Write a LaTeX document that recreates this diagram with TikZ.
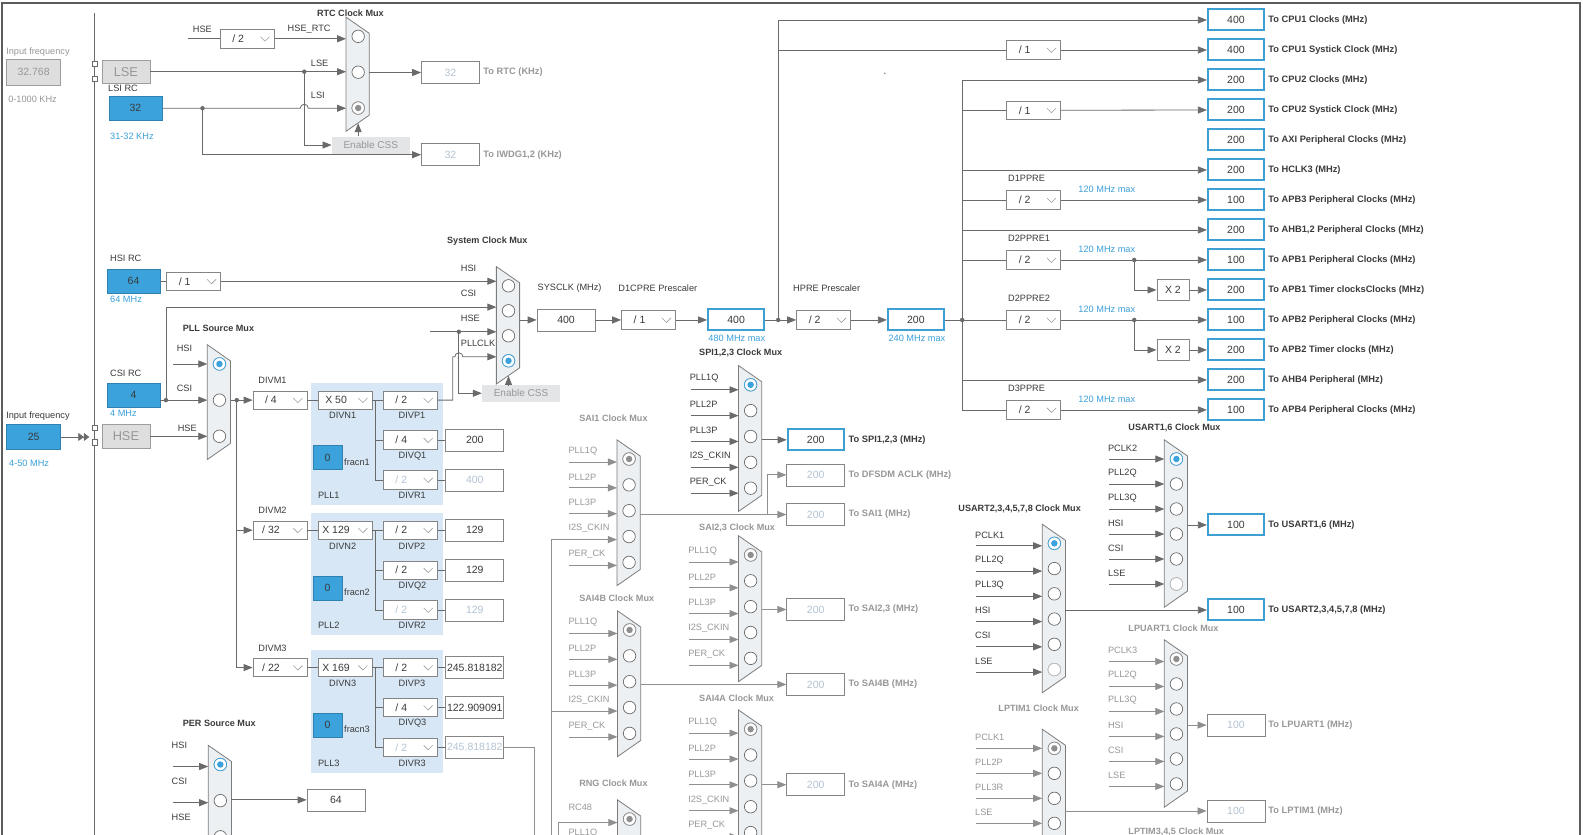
\documentclass[tikz,border=0pt]{standalone}
\usepackage{fontspec}
\setmainfont{Liberation Sans}
\usetikzlibrary{arrows.meta,positioning}

\definecolor{lnc}{HTML}{6A6A6A}
\definecolor{offlnc}{HTML}{8F8F8F}
\definecolor{txc}{HTML}{3A3A3A}
\definecolor{offtx}{HTML}{979797}
\definecolor{valoffc}{HTML}{B3C3D3}
\definecolor{inblue}{HTML}{3BA2DB}
\definecolor{outblue}{HTML}{3E9FD2}
\definecolor{bluetx}{HTML}{3A9FD8}
\definecolor{muxfill}{HTML}{EDF0F3}
\definecolor{muxc}{HTML}{7C7C7C}
\definecolor{boxc}{HTML}{858585}
\definecolor{pllbg}{HTML}{D7E7F5}
\definecolor{greyfill}{HTML}{DEDEDE}
\definecolor{cssfill}{HTML}{E3E5E7}
\definecolor{framec}{HTML}{5C5C5C}

% mux: [colour of chosen input] name, left x, first input y, inputs, pitch, chosen
\newcommand{\mux}[7][inblue]{%
  \pgfmathsetmacro\muxlast{#4+(#5-1)*#6}
  \draw[muxs] (#3,#4-19) -- (#3+23,#4-3) -- (#3+23,\muxlast+7) -- (#3,\muxlast+23) -- cycle;
  \foreach \i in {1,...,#5} {
    \coordinate (#2i\i) at (#3,{#4+(\i-1)*#6});
    \node[mcirc] (#2c\i) at ({#3+12},{#4+(\i-1)*#6}) {};
  }
  \node[mcirc,draw=#1] (#2sel) at (#2c#7) {};
  \fill[#1] (#2sel) circle (3.2);
  \coordinate (#2o) at (#3+23,{(#4+\muxlast)/2});
  \coordinate (#2b) at (#3+12,\muxlast+15);
}
% inputs of a mux: [arrow] mux, start x, label colour, drop, raise, labels
\newcommand{\muxin}[7][arr]{%
  \coordinate (#2x) at (#3,0);
  \foreach \lab [count=\i] in {#7} {
    \coordinate (#2t\i) at (#2x |- #2i\i);
    \coordinate (#2s\i) at ([yshift=-#5pt]#2t\i);
    \coordinate (#2e\i) at ([yshift=-#5pt]#2i\i);
    \draw[#1] (#2s\i) -- (#2e\i);
    \node[lbl,text=#4] (#2l\i) at ([xshift=-1pt,yshift=#6pt]#2s\i) {\lab};
  }
}
% drop-down box: [text colour] name, place, text
\newcommand{\dd}[4][txc]{%
  \node[ddbox] (#2) at (#3) {};
  \node[ddtx,text=#1] (#2t) at ([xshift=-9pt]#2.center) {#4};
  \draw[ddv] ([xshift=-14pt,yshift=2pt]#2.east) -- ([xshift=-9.5pt,yshift=-2.5pt]#2.east) -- ([xshift=-5pt,yshift=2pt]#2.east);
}

\begin{document}
\begin{tikzpicture}[x=1.009pt, y=-1.01pt, font=\fontsize{9.2}{11}\selectfont, text=txc,
  ln/.style={draw=lnc, line width=0.8pt},
  lnoff/.style={draw=offlnc, line width=0.8pt},
  arr/.style={ln, -{Triangle[length=9pt,width=7pt]}},
  arroff/.style={lnoff, -{Triangle[length=9pt,width=7pt]}},
  lbl/.style={anchor=west, inner sep=0pt},
  ttl/.style={anchor=west, inner sep=0pt, font=\bfseries\fontsize{9.1}{10}\selectfont},
  blbl/.style={anchor=west, inner sep=0pt, font=\bfseries\fontsize{9.3}{11}\selectfont},
  valbox/.style={draw=boxc, fill=white, line width=0.7pt, minimum width=58pt, minimum height=22pt, inner sep=0pt, font=\fontsize{10.5}{12}\selectfont},
  valoff/.style={valbox, text=valoffc},
  outbox/.style={valbox, draw=outblue, line width=2pt, minimum width=56pt, minimum height=21pt},
  inbox/.style={fill=inblue, draw=inblue!80!black, line width=0.5pt, minimum width=53pt, minimum height=24pt, inner sep=0pt, font=\fontsize{10.5}{12}\selectfont},
  greybox/.style={fill=greyfill, draw=boxc!80, line width=0.6pt, inner sep=0pt, text=offtx},
  cssbox/.style={fill=cssfill, minimum width=78pt, minimum height=17pt, inner sep=0pt, text=offtx, font=\fontsize{10}{12}\selectfont},
  pinsq/.style={draw=lnc, fill=white, minimum size=5.5pt, inner sep=0pt, line width=0.6pt},
  muxs/.style={draw=muxc, fill=muxfill, line width=0.8pt},
  mcirc/.style={circle, draw=lnc, fill=white, minimum size=12.5pt, inner sep=0pt, line width=0.7pt},
  ddbox/.style={draw=boxc, fill=white, line width=0.7pt, minimum width=54pt, minimum height=18.5pt, inner sep=0pt},
  ddtx/.style={inner sep=0pt, font=\fontsize{10.5}{12}\selectfont},
  ddv/.style={draw=boxc!80, line width=0.6pt}]
\useasboundingbox (0,0) rectangle (1569,826.7);
\draw[framec, line width=2.6pt] (2,840) -- (2,3) -- (1566,3) -- (1566,840);
\draw[ln] (94,13) -- (94,840);

% LSE and LSI
\node[lbl,text=offtx] (lsefl) at (6,52) {Input frequency};
\node[greybox, minimum width=54pt, minimum height=26pt, font=\fontsize{10.5}{12}\selectfont] (lsef) at (33.3,71.6) {32.768};
\node[lbl,text=offtx] (lsefr) at (8,98) {0-1000 KHz};
\foreach \n/\y in {1/63.4,2/78,3/423.4,4/438}
	\node[pinsq] (pin\n) at (94,\y) {};
\node[greybox, minimum width=48pt, minimum height=23pt, font=\fontsize{12.8}{14}\selectfont] (lse) at (124.8,71) {LSE};
\node[lbl] (lsirl) at (107,87.5) {LSI RC};
\node[inbox] (lsi) at (134.2,107.2) {32};
\node[lbl,text=bluetx] (lsir) at (109,135) {31-32 KHz};

% RTC
\mux[offlnc]{rtc}{343}{36}{3}{35.5}{3}
\node[ttl] (rtct) at (314,13) {RTC Clock Mux};
\coordinate (hsert) at (186.5,38.4);
\node[lbl] (hsertl) at (191,28.7) {HSE};
\dd{rtcdiv}{245,38.4}{/ 2}
\node[lbl] (hsertcl) at (285,28.7) {HSE\_RTC};
\node[lbl] (rtclse) at (308,62.7) {LSE};
\node[lbl] (rtclsi) at (308,94) {LSI};
\draw[ln] (hsert) -- (rtcdiv);
\draw[arr] (rtcdiv.east) -- (rtcdiv.east -| rtci1);
\coordinate (lsed) at (301.6,71);
\draw[arr] (lse) -- (lse -| rtci2);
\node[cssbox] (css1) at (367.5,143.6) {Enable CSS};
\draw[arr] (lsed) |- (css1);
\fill[lnc] (lsed) circle (2.2);
\coordinate (lsid) at (200.7,107.2);
\coordinate (hop1) at (297.6,107.2);
\draw[arr] (lsi) -- (hop1) arc[start angle=180,end angle=360,radius=4] -- (hop1 -| rtci3);
\fill[lnc] (lsid) circle (2.2);
\node[valoff] (rtcv) at (446.5,71.8) {32};
\node[valoff] (iwdgv) at (446.5,153.2) {32};
\draw[arr] (rtcv.west -| rtco) -- (rtcv.west);
\draw[arr] (lsid) |- (iwdgv);
\draw[arr] (css1.north -| rtcb) -- (rtcb);
\node[blbl,text=offtx] (rtcl) at (479,71.8) {To RTC (KHz)};
\node[blbl,text=offtx] (iwdgl) at (479,153.2) {To IWDG1,2 (KHz)};

% HSI and system clock mux
\node[lbl] (hsirl) at (109,255.8) {HSI RC};
\node[inbox] (hsi) at (132.4,278.5) {64};
\node[lbl,text=bluetx] (hsir) at (109,296) {64 MHz};
\dd{hsidiv}{192,278.5}{/ 1}
\draw[ln] (hsi) -- (hsidiv);
\mux{sys}{492}{283}{4}{24.75}{4}
\node[ttl] (syst) at (443,238.5) {System Clock Mux};
\node[lbl] (syshl) at (456.6,265.7) {HSI};
\node[lbl] (syscl) at (456.6,290.4) {CSI};
\node[lbl] (sysel) at (456.6,315.2) {HSE};
\node[lbl] (syspl) at (456.6,340) {PLLCLK};
\draw[arr] (hsidiv.east) -- (hsidiv.east -| sysi1);
\coordinate (hses) at (426.5,328.5);
\coordinate (hsed) at (454.8,328.5);
\draw[arr] (hses) -- (hses -| sysi3);
\fill[lnc] (hsed) circle (2.2);
\node[cssbox] (css2) at (516.4,389.4) {Enable CSS};
\draw[arr] (hsed) |- (css2);
\draw[arr] (css2.north -| sysb) -- (sysb);

% SYSCLK chain
\node[valbox] (sysclk) at (561,316.8) {400};
\node[lbl] (sysclkl) at (532.7,285.5) {SYSCLK (MHz)};
\draw[arr] (sysclk.west -| syso) -- (sysclk.west);
\dd{d1cpre}{642.8,316.8}{/ 1}
\node[lbl] (d1cprel) at (612.8,285.5) {D1CPRE Prescaler};
\node[outbox] (cpuclk) at (729.6,316.8) {400};
\node[lbl,text=bluetx] (cpumax) at (702,335.5) {480 MHz max};
\coordinate (cpud) at (771.3,316.8);
\dd{hpre}{816.3,316.8}{/ 2}
\node[lbl] (hprel) at (786,285.5) {HPRE Prescaler};
\node[outbox] (hclk) at (907.8,316.8) {200};
\node[lbl,text=bluetx] (hclkmax) at (880.5,335.5) {240 MHz max};
\coordinate (hd) at (953.7,316.8);
\draw[arr] (sysclk) -- (d1cpre);
\draw[arr] (d1cpre) -- (cpuclk);
\draw[ln] (cpuclk) -- (cpud);
\draw[arr] (cpud) -- (hpre);
\draw[arr] (hpre) -- (hclk);
\draw[ln] (hclk) -- (hd);
\fill[lnc] (cpud) circle (2.2);
\fill[lnc] (hd) circle (2.2);

% bus clocks
\foreach \n/\val/\txt in {1/400/To CPU1 Clocks (MHz), 2/400/To CPU1 Systick Clock (MHz), 3/200/To CPU2 Clocks (MHz), 4/200/To CPU2 Systick Clock (MHz), 5/200/To AXI Peripheral Clocks (MHz), 6/200/To HCLK3 (MHz), 7/100/To APB3 Peripheral Clocks (MHz), 8/200/{To AHB1,2 Peripheral Clocks (MHz)}, 9/100/To APB1 Peripheral Clocks (MHz), 10/200/To APB1 Timer clocksClocks (MHz), 11/100/To APB2 Peripheral Clocks (MHz), 12/200/To APB2 Timer clocks (MHz), 13/200/To AHB4 Peripheral (MHz), 14/100/To APB4 Peripheral Clocks (MHz)} {
	\node[outbox] (o\n) at (1225,{19.8+29.7*(\n-1)}) {\val};
	\node[blbl] (t\n) at (1257,{19.8+29.7*(\n-1)}) {\txt};
};
\draw[arr] (cpud) |- (o1);
\dd{cpu1div}{1024.5,49.5}{/ 1}
\draw[ln] (cpud |- cpu1div) -- (cpu1div);
\draw[arr] (cpu1div) -- (o2);
\draw[ln] (hd |- o3) -- (hd |- o14);
\draw[arr] (hd |- o3) -- (o3);
\dd{cpu2div}{1024.5,109.2}{/ 1}
\draw[ln] (hd |- cpu2div) -- (cpu2div);
\draw[arr] (cpu2div) -- (o4);
\draw[arr] (hd |- o6) -- (o6);
\draw[arr] (hd |- o8) -- (o8);
\draw[arr] (hd |- o13) -- (o13);
\foreach \n/\dv/\lab in {7/d1ppre/D1PPRE, 9/d2ppre1/D2PPRE1, 11/d2ppre2/D2PPRE2, 14/d3ppre/D3PPRE} {
	\dd{\dv}{1024.5,{19.8+29.7*(\n-1)}}{/ 2}
	\node[lbl] (\dv-l) at (999,{19.8+29.7*(\n-1)-21}) {\lab};
	\node[lbl,text=bluetx] (\dv-m) at (1068.7,{19.8+29.7*(\n-1)-10.5}) {120 MHz max};
	\draw[ln] (hd |- \dv) -- (\dv);
	\draw[arr] (\dv) -- (o\n);
};
\coordinate (tcol) at (1124.2,0);
\foreach \dv/\a/\b/\xb in {d2ppre1/9/10/xa, d2ppre2/11/12/xb} {
	\node[valbox, minimum width=32pt, minimum height=21pt] (\xb) at (1162.5,{19.8+29.7*(\b-1)}) {X 2};
	\fill[lnc] (tcol |- o\a) circle (2.2);
	\draw[arr] (tcol |- o\a) |- (\xb);
	\draw[arr] (\xb) -- (o\b);
};
\fill[offlnc] (877,72.6) circle (0.9);

% CSI, HSE and PLL source
\node[lbl] (csirl) at (109,369.6) {CSI RC};
\node[inbox] (csi) at (132.4,391.4) {4};
\node[lbl,text=bluetx] (csir) at (109,409.5) {4 MHz};
\mux{pllsrc}{205.5}{360.4}{3}{35.8}{1}
\node[ttl] (pllsrct) at (181,325) {PLL Source Mux};
\coordinate (pllh) at (171.7,360.4);
\draw[arr] (pllh) -- (pllsrci1);
\node[lbl] (pllhl) at (175,345) {HSI};
\coordinate (csid) at (164.5,396.2);
\draw[arr] (csi.east |- csid) -- (pllsrci2);
\fill[lnc] (csid) circle (2.2);
\draw[arr] (csid) |- ([yshift=3.7pt]sysi2);
\node[lbl] (pllcl) at (175,384.5) {CSI};
\node[greybox, minimum width=48pt, minimum height=24pt, font=\fontsize{12.8}{14}\selectfont] (hse) at (124.8,432) {HSE};
\draw[arr] (hse) -- (pllsrci3);
\node[lbl] (pllel) at (176,424) {HSE};
\node[lbl] (hsefl) at (6,412.5) {Input frequency};
\node[inbox, minimum width=54pt, minimum height=25.5pt] (hsef) at (33.3,432.7) {25};
\node[lbl,text=bluetx] (hsefr) at (8.9,458.7) {4-50 MHz};
\coordinate (hsep) at (88.5,432.7);
\draw[ln, -{Triangle[length=5.5pt,width=8pt] Triangle[length=5.5pt,width=8pt]}] (hsef) -- (hsep);
\coordinate (pd) at (234.7,396.2);
\draw[ln] (pllsrco) -- (pd);
\fill[lnc] (pd) circle (2.2);

% PLL1..3
\foreach \k/\y/\m/\n/\q in {1/396.2/4/50/4, 2/525/32/129/2, 3/661/22/169/4} {
	\fill[pllbg] (308.6,\y-17) rectangle (439,\y+104);
	\dd{divm\k}{277.5,\y}{/ \m}
	\node[lbl] (divml\k) at (256,\y-19.5) {DIVM\k};
	\dd{divn\k}{342,\y}{X \n}
	\dd{divp\k}{406.7,\y}{/ 2}
	\dd{divq\k}{406.7,\y+39.5}{/ \q}
	\dd[valoffc]{divr\k}{406.7,\y+79}{/ 2}
	\node[lbl] (divnl\k) at (326,\y+15.5) {DIVN\k};
	\node[lbl] (divpl\k) at (395,\y+15.5) {DIVP\k};
	\node[lbl] (divql\k) at (395,\y+55) {DIVQ\k};
	\node[lbl] (divrl\k) at (395,\y+94.5) {DIVR\k};
	\node[lbl] (plll\k) at (315,\y+94.5) {PLL\k};
	\node[inbox, minimum width=29pt, minimum height=24pt] (frac\k) at (324.7,\y+57) {0};
	\node[lbl] (fracl\k) at (341,\y+61) {fracn\k};
	\coordinate (sp\k) at (372,\y);
	\draw[ln] (divm\k) -- (divn\k);
	\draw[ln] (divn\k) -- (sp\k) |- (divr\k);
	\draw[ln] (sp\k) -- (divp\k);
	\draw[ln] (sp\k |- divq\k) -- (divq\k);
};
\foreach \w/\y/\val/\st in {q1/435.7/200/valbox, r1/475.2/400/valoff, p2/525/129/valbox, q2/564.5/129/valbox, r2/604/129/valoff, p3/661/245.818182/valbox, q3/700.5/122.909091/valbox, r3/740/245.818182/valoff} {
	\node[\st] (v\w) at (470.6,\y) {\val};
	\draw[ln] (div\w) -- (v\w);
};
\coordinate (r3e) at (530,840);
\draw[lnoff] (vr3) -| (r3e);
\draw[arr] (pd) -- (divm1);
\draw[arr] (pd) |- (divm2);
\draw[arr] (pd) |- (divm3);
\coordinate (pllk) at (448.8,353.3);
\coordinate (hop2) at (450.8,353.3);
\draw[arr] (divp1) -| (pllk) -- (hop2) arc[start angle=180,end angle=360,radius=4] -- (hop2 -| sysi4);

% PER source
\node[ttl] (pert) at (181,716.2) {PER Source Mux};
\mux{per}{206.4}{757}{3}{35.8}{1}
\muxin{per}{171}{txc}{2}{21}{HSI,CSI,HSE}
\node[valbox] (perv) at (333,792) {64};
\draw[arr] (perv.west -| pero) -- (perv.west);

% SPI1,2,3
\node[ttl] (spit) at (692.8,349.8) {SPI1,2,3 Clock Mux};
\mux{spi}{732}{381}{5}{25.6}{1}
\muxin{spi}{684.5}{txc}{5}{11.4}{PLL1Q,PLL2P,PLL3P,I2S\_CKIN,PER\_CK}
\node[outbox] (spiv) at (808.5,435.5) {200};
\draw[arr] (spiv.west -| spio) -- (spiv.west);
\node[blbl] (spil) at (841,435.5) {To SPI1,2,3 (MHz)};

% SAI1
\node[ttl,text=offtx] (sai1t) at (574,414) {SAI1 Clock Mux};
\mux[offlnc]{sai1}{611.5}{454.5}{5}{25.6}{1}
\muxin[arroff]{sai1}{564.3}{offtx}{3}{11}{PLL1Q,PLL2P,PLL3P,I2S\_CKIN,PER\_CK}
\node[valoff] (sai1v) at (808.5,509.5) {200};
\node[valoff] (dfv) at (808.5,470.2) {200};
\draw[arroff] (sai1v.west -| sai1o) -- (sai1v.west);
\coordinate (dfj) at (761,509.5);
\draw[arroff] (dfj) |- (dfv);
\node[blbl,text=offtx] (sai1l) at (841,509.5) {To SAI1 (MHz)};
\node[blbl,text=offtx] (dfl) at (841,470.2) {To DFSDM ACLK (MHz)};

% SAI2,3
\node[ttl,text=offtx] (sai23t) at (692.8,523) {SAI2,3 Clock Mux};
\mux[offlnc]{sai23}{732}{549.5}{5}{25.6}{1}
\muxin[arroff]{sai23}{683}{offtx}{7}{11}{PLL1Q,PLL2P,PLL3P,I2S\_CKIN,PER\_CK}
\node[valoff] (sai23v) at (808.5,603.5) {200};
\draw[arroff] (sai23v.west -| sai23o) -- (sai23v.west);
\node[blbl,text=offtx] (sai23l) at (841,603.5) {To SAI2,3 (MHz)};

% SAI4B
\node[ttl,text=offtx] (sai4bt) at (574,592.4) {SAI4B Clock Mux};
\mux[offlnc]{sai4b}{612}{623.8}{5}{25.6}{1}
\muxin[arroff]{sai4b}{564.3}{offtx}{3.5}{11}{PLL1Q,PLL2P,PLL3P,I2S\_CKIN,PER\_CK}
\node[valoff] (sai4bv) at (808.5,677.7) {200};
\draw[arroff] (sai4bv.west -| sai4bo) -- (sai4bv.west);
\node[blbl,text=offtx] (sai4bl) at (841,677.7) {To SAI4B (MHz)};

% SAI4A
\node[ttl,text=offtx] (sai4at) at (692.8,691.4) {SAI4A Clock Mux};
\mux[offlnc]{sai4a}{732}{722}{5}{25.6}{1}
\muxin[arroff]{sai4a}{683}{offtx}{4}{11}{PLL1Q,PLL2P,PLL3P,I2S\_CKIN,PER\_CK}
\node[valoff] (sai4av) at (808.5,777) {200};
\draw[arroff] (sai4av.west -| sai4ao) -- (sai4av.west);
\node[blbl,text=offtx] (sai4al) at (841,777) {To SAI4A (MHz)};

% RNG
\node[ttl,text=offtx] (rngt) at (574,775.6) {RNG Clock Mux};
\mux[offlnc]{rng}{612}{811}{4}{25.6}{1}
\muxin[arroff]{rng}{564.3}{offtx}{3.5}{15}{RC48,PLL1Q}
\coordinate (rngv) at (553.3,840);
\draw[lnoff] (rngv) |- (rngs1);
\coordinate (i2sv) at (546.7,840);
\draw[lnoff] (i2sv) |- (sai1s4);
\draw[lnoff] (i2sv |- sai4bs4) -- (sai4bs4);

% USART1,6
\node[ttl] (u16t) at (1118.3,424) {USART1,6 Clock Mux};
\mux{u16}{1154}{454.5}{6}{24.75}{1}
\muxin{u16}{1099}{txc}{0}{10.7}{PCLK2,PLL2Q,PLL3Q,HSI,CSI,LSE}
\node[mcirc,draw=offlnc!55] (u16c6b) at (u16c6) {};
\node[outbox] (u16v) at (1225,519.8) {100};
\draw[arr] (u16v.west -| u16o) -- (u16v.west);
\node[blbl] (u16l) at (1257,519.8) {To USART1,6 (MHz)};

% USART2,3,4,5,7,8
\node[ttl] (u2t) at (949.8,504) {USART2,3,4,5,7,8 Clock Mux};
\mux{u2}{1033}{538}{6}{25}{1}
\muxin{u2}{967.3}{txc}{2.5}{11}{PCLK1,PLL2Q,PLL3Q,HSI,CSI,LSE}
\node[mcirc,draw=offlnc!55] (u2c6b) at (u2c6) {};
\node[outbox] (u2v) at (1225,604) {100};
\draw[arr] (u2v.west -| u2o) -- (u2v.west);
\node[blbl] (u2l) at (1257,604) {To USART2,3,4,5,7,8 (MHz)};

% LPUART1
\node[ttl,text=offtx] (lput) at (1118.3,622) {LPUART1 Clock Mux};
\mux[offlnc]{lpu}{1154}{652.5}{6}{24.75}{1}
\muxin[arroff]{lpu}{1099}{offtx}{2.5}{11}{PCLK3,PLL2Q,PLL3Q,HSI,CSI,LSE}
\node[valoff] (lpuv) at (1225,718) {100};
\draw[arroff] (lpuv.west -| lpuo) -- (lpuv.west);
\node[blbl,text=offtx] (lpul) at (1257,718) {To LPUART1 (MHz)};

% LPTIM1
\node[ttl,text=offtx] (lptt) at (989.4,701.3) {LPTIM1 Clock Mux};
\mux[offlnc]{lpt}{1033}{741}{6}{24.75}{1}
\muxin[arroff]{lpt}{967.3}{offtx}{0}{11}{PCLK1,PLL2P,PLL3R,LSE}
\node[valoff] (lptv) at (1225,803) {100};
\draw[arroff] (lptv.west -| lpto) -- (lptv.west);
\node[blbl,text=offtx] (lptl) at (1257,803) {To LPTIM1 (MHz)};
\node[ttl,text=offtx] (lpt3t) at (1118.3,823.5) {LPTIM3,4,5 Clock Mux};
\end{tikzpicture}
\end{document}
